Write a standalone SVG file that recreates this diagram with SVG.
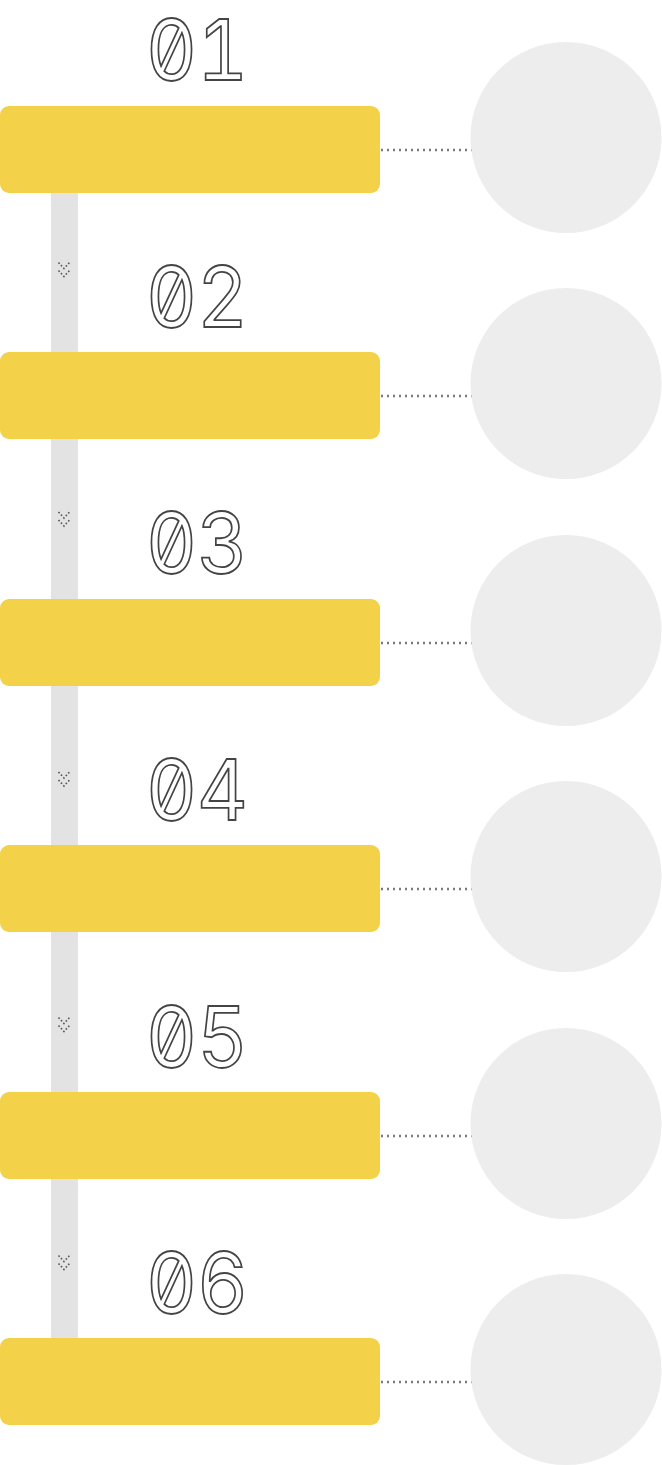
<svg xmlns="http://www.w3.org/2000/svg" width="662" height="1465" viewBox="0 0 662 1465">
<defs>
<style>
.box{fill:#F3D148}
.circ{fill:#EDEDED}
.link{stroke:#7a7a7a;stroke-width:2.4;stroke-dasharray:2 4;fill:none}
.num{font-family:Inter,"DejaVu Sans",sans-serif;font-feature-settings:"zero" 1,"tnum" 1;font-size:84px;font-weight:400;fill:none;stroke:#444;stroke-width:1.8}
.chev{fill:none;stroke:#555;stroke-width:1.6;stroke-dasharray:1.6 2}
</style>
<g id="chev-shape">
<path class="chev" d="M58.5,0 L64,6 L69.5,0 M58.5,8 L64,14 L69.5,8"/>
</g>
</defs>
<rect id="spine" x="51" y="190" width="27" height="1150" fill="#E3E3E3"/>
<g id="connectors">
<line class="link" x1="381" y1="150" x2="472" y2="150"/>
<line class="link" x1="381" y1="396" x2="472" y2="396"/>
<line class="link" x1="381" y1="643" x2="472" y2="643"/>
<line class="link" x1="381" y1="889" x2="472" y2="889"/>
<line class="link" x1="381" y1="1136" x2="472" y2="1136"/>
<line class="link" x1="381" y1="1382" x2="472" y2="1382"/>
<use href="#chev-shape" y="262.5"/>
<use href="#chev-shape" y="512"/>
<use href="#chev-shape" y="772"/>
<use href="#chev-shape" y="1017.5"/>
<use href="#chev-shape" y="1255.5"/>
</g>
<g id="step1">
<rect class="box" x="0" y="106" width="380" height="87" rx="9"/>
<circle class="circ" cx="566" cy="137.5" r="95.5"/>
<text class="num" x="146" y="80" textLength="102" lengthAdjust="spacingAndGlyphs">01</text>
</g>
<g id="step2">
<rect class="box" x="0" y="352" width="380" height="87" rx="9"/>
<circle class="circ" cx="566" cy="383.5" r="95.5"/>
<text class="num" x="146" y="327" textLength="102" lengthAdjust="spacingAndGlyphs">02</text>
</g>
<g id="step3">
<rect class="box" x="0" y="599" width="380" height="87" rx="9"/>
<circle class="circ" cx="566" cy="630.5" r="95.5"/>
<text class="num" x="146" y="573" textLength="102" lengthAdjust="spacingAndGlyphs">03</text>
</g>
<g id="step4">
<rect class="box" x="0" y="845" width="380" height="87" rx="9"/>
<circle class="circ" cx="566" cy="876.5" r="95.5"/>
<text class="num" x="146" y="820" textLength="102" lengthAdjust="spacingAndGlyphs">04</text>
</g>
<g id="step5">
<rect class="box" x="0" y="1092" width="380" height="87" rx="9"/>
<circle class="circ" cx="566" cy="1123.5" r="95.5"/>
<text class="num" x="146" y="1067" textLength="102" lengthAdjust="spacingAndGlyphs">05</text>
</g>
<g id="step6">
<rect class="box" x="0" y="1338" width="380" height="87" rx="9"/>
<circle class="circ" cx="566" cy="1369.5" r="95.5"/>
<text class="num" x="146" y="1313" textLength="102" lengthAdjust="spacingAndGlyphs">06</text>
</g>
</svg>
